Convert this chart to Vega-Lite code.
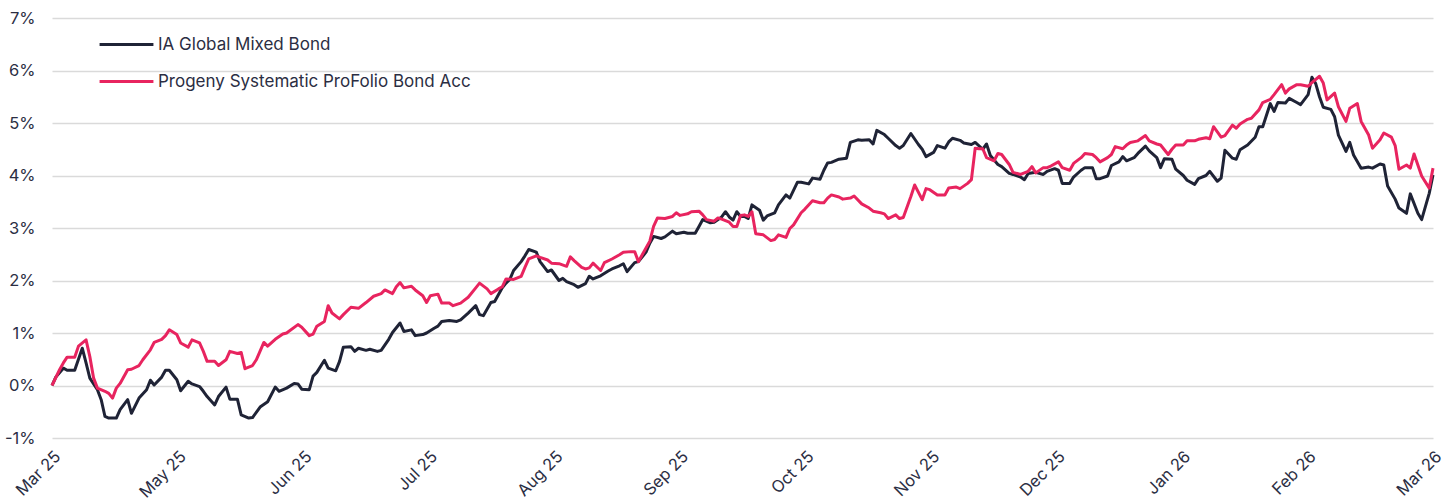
{
  "$schema": "https://vega.github.io/schema/vega-lite/v6.json",
  "width": 1381,
  "height": 420,
  "autosize": {"type": "none"},
  "padding": {"left": 52, "top": 18, "right": 12, "bottom": 64},
  "background": "white",
  "config": {
    "view": {"stroke": null},
    "font": "Inter",
    "axis": {"labelFont": "Inter", "labelColor": "#2b2e43", "labelFontSize": 16.5, "domain": false, "ticks": false},
    "legend": {"labelFont": "Inter", "labelColor": "#2b2e43", "labelFontSize": 17}
  },
  "datasets": {
    "ia": [
      {"date":"2025-03-31","value":0},{"date":"2025-04-01","value":0.16},{"date":"2025-04-03","value":0.33},{"date":"2025-04-04","value":0.29},{"date":"2025-04-06","value":0.29},{"date":"2025-04-08","value":0.71},{"date":"2025-04-09","value":0.43},{"date":"2025-04-10","value":0.14},{"date":"2025-04-12","value":-0.08},{"date":"2025-04-13","value":-0.27},{"date":"2025-04-14","value":-0.59},{"date":"2025-04-15","value":-0.62},{"date":"2025-04-17","value":-0.62},{"date":"2025-04-18","value":-0.46},{"date":"2025-04-20","value":-0.27},{"date":"2025-04-21","value":-0.53},{"date":"2025-04-23","value":-0.24},{"date":"2025-04-25","value":-0.08},{"date":"2025-04-26","value":0.10},{"date":"2025-04-27","value":0.01},{"date":"2025-04-29","value":0.16},{"date":"2025-04-30","value":0.29},
      {"date":"2025-05-01","value":0.29},{"date":"2025-05-03","value":0.11},{"date":"2025-05-04","value":-0.10},{"date":"2025-05-06","value":0.08},{"date":"2025-05-07","value":0.03},{"date":"2025-05-09","value":-0.02},{"date":"2025-05-10","value":-0.11},{"date":"2025-05-11","value":-0.21},{"date":"2025-05-13","value":-0.37},{"date":"2025-05-14","value":-0.21},{"date":"2025-05-16","value":-0.03},{"date":"2025-05-17","value":-0.26},{"date":"2025-05-19","value":-0.26},{"date":"2025-05-20","value":-0.56},{"date":"2025-05-22","value":-0.62},{"date":"2025-05-23","value":-0.61},{"date":"2025-05-25","value":-0.41},{"date":"2025-05-27","value":-0.31},{"date":"2025-05-29","value":-0.03},{"date":"2025-05-30","value":-0.11},
      {"date":"2025-06-01","value":-0.05},{"date":"2025-06-03","value":0.04},{"date":"2025-06-04","value":0.03},{"date":"2025-06-05","value":-0.07},{"date":"2025-06-07","value":-0.08},{"date":"2025-06-08","value":0.18},{"date":"2025-06-09","value":0.25},{"date":"2025-06-11","value":0.48},{"date":"2025-06-12","value":0.33},{"date":"2025-06-14","value":0.28},{"date":"2025-06-15","value":0.46},{"date":"2025-06-16","value":0.73},{"date":"2025-06-18","value":0.74},{"date":"2025-06-19","value":0.65},{"date":"2025-06-20","value":0.71},{"date":"2025-06-22","value":0.67},{"date":"2025-06-23","value":0.69},{"date":"2025-06-25","value":0.65},{"date":"2025-06-26","value":0.67},{"date":"2025-06-28","value":0.88},{"date":"2025-06-29","value":1.01},
      {"date":"2025-07-01","value":1.19},{"date":"2025-07-02","value":1.03},{"date":"2025-07-04","value":1.06},{"date":"2025-07-05","value":0.95},{"date":"2025-07-07","value":0.97},{"date":"2025-07-08","value":1.00},{"date":"2025-07-10","value":1.09},{"date":"2025-07-11","value":1.13},{"date":"2025-07-12","value":1.22},{"date":"2025-07-14","value":1.24},{"date":"2025-07-16","value":1.22},{"date":"2025-07-17","value":1.25},{"date":"2025-07-19","value":1.38},{"date":"2025-07-21","value":1.52},{"date":"2025-07-22","value":1.35},{"date":"2025-07-23","value":1.33},{"date":"2025-07-25","value":1.58},{"date":"2025-07-26","value":1.60},{"date":"2025-07-28","value":1.86},{"date":"2025-07-29","value":1.95},{"date":"2025-07-30","value":2.02},{"date":"2025-07-31","value":2.19},
      {"date":"2025-08-02","value":2.36},{"date":"2025-08-03","value":2.47},{"date":"2025-08-04","value":2.59},{"date":"2025-08-06","value":2.54},{"date":"2025-08-07","value":2.36},{"date":"2025-08-09","value":2.17},{"date":"2025-08-10","value":2.20},{"date":"2025-08-12","value":2.00},{"date":"2025-08-13","value":2.04},{"date":"2025-08-14","value":1.98},{"date":"2025-08-16","value":1.92},{"date":"2025-08-17","value":1.87},{"date":"2025-08-19","value":1.94},{"date":"2025-08-20","value":2.08},{"date":"2025-08-21","value":2.03},{"date":"2025-08-23","value":2.09},{"date":"2025-08-25","value":2.18},{"date":"2025-08-26","value":2.22},{"date":"2025-08-28","value":2.28},{"date":"2025-08-29","value":2.32},{"date":"2025-08-30","value":2.17},
      {"date":"2025-09-01","value":2.34},{"date":"2025-09-02","value":2.36},{"date":"2025-09-04","value":2.54},{"date":"2025-09-05","value":2.71},{"date":"2025-09-06","value":2.84},{"date":"2025-09-08","value":2.80},{"date":"2025-09-09","value":2.83},{"date":"2025-09-11","value":2.94},{"date":"2025-09-12","value":2.89},{"date":"2025-09-14","value":2.92},{"date":"2025-09-15","value":2.90},{"date":"2025-09-17","value":2.90},{"date":"2025-09-18","value":3.03},{"date":"2025-09-19","value":3.16},{"date":"2025-09-21","value":3.10},{"date":"2025-09-22","value":3.11},{"date":"2025-09-24","value":3.21},{"date":"2025-09-25","value":3.31},{"date":"2025-09-26","value":3.21},{"date":"2025-09-27","value":3.15},{"date":"2025-09-28","value":3.31},{"date":"2025-09-29","value":3.22},{"date":"2025-09-30","value":3.22},
      {"date":"2025-10-01","value":3.18},{"date":"2025-10-02","value":3.44},{"date":"2025-10-04","value":3.34},{"date":"2025-10-05","value":3.15},{"date":"2025-10-06","value":3.23},{"date":"2025-10-08","value":3.29},{"date":"2025-10-09","value":3.44},{"date":"2025-10-11","value":3.63},{"date":"2025-10-12","value":3.57},{"date":"2025-10-14","value":3.87},{"date":"2025-10-15","value":3.87},{"date":"2025-10-17","value":3.84},{"date":"2025-10-18","value":3.95},{"date":"2025-10-20","value":3.93},{"date":"2025-10-21","value":4.10},{"date":"2025-10-22","value":4.24},{"date":"2025-10-23","value":4.25},{"date":"2025-10-25","value":4.31},{"date":"2025-10-27","value":4.33},{"date":"2025-10-28","value":4.63},{"date":"2025-10-30","value":4.68},{"date":"2025-10-31","value":4.67},
      {"date":"2025-11-02","value":4.68},{"date":"2025-11-03","value":4.60},{"date":"2025-11-04","value":4.86},{"date":"2025-11-06","value":4.78},{"date":"2025-11-07","value":4.71},{"date":"2025-11-09","value":4.57},{"date":"2025-11-10","value":4.52},{"date":"2025-11-11","value":4.57},{"date":"2025-11-13","value":4.80},{"date":"2025-11-15","value":4.59},{"date":"2025-11-16","value":4.50},{"date":"2025-11-17","value":4.36},{"date":"2025-11-19","value":4.44},{"date":"2025-11-20","value":4.57},{"date":"2025-11-22","value":4.52},{"date":"2025-11-23","value":4.64},{"date":"2025-11-24","value":4.71},{"date":"2025-11-26","value":4.67},{"date":"2025-11-27","value":4.62},{"date":"2025-11-29","value":4.59},{"date":"2025-11-30","value":4.63},
      {"date":"2025-12-02","value":4.50},{"date":"2025-12-03","value":4.60},{"date":"2025-12-04","value":4.38},{"date":"2025-12-06","value":4.21},{"date":"2025-12-07","value":4.17},{"date":"2025-12-09","value":4.04},{"date":"2025-12-10","value":4.02},{"date":"2025-12-12","value":3.97},{"date":"2025-12-13","value":3.92},{"date":"2025-12-14","value":4.04},{"date":"2025-12-16","value":4.06},{"date":"2025-12-18","value":4.02},{"date":"2025-12-19","value":4.08},{"date":"2025-12-21","value":4.13},{"date":"2025-12-22","value":4.10},{"date":"2025-12-23","value":3.85},{"date":"2025-12-25","value":3.85},{"date":"2025-12-26","value":3.97},{"date":"2025-12-28","value":4.10},{"date":"2025-12-29","value":4.15},{"date":"2025-12-31","value":4.15},
      {"date":"2026-01-01","value":3.94},{"date":"2026-01-02","value":3.94},{"date":"2026-01-04","value":3.99},{"date":"2026-01-05","value":4.19},{"date":"2026-01-07","value":4.26},{"date":"2026-01-08","value":4.36},{"date":"2026-01-09","value":4.28},{"date":"2026-01-11","value":4.34},{"date":"2026-01-12","value":4.42},{"date":"2026-01-14","value":4.56},{"date":"2026-01-15","value":4.47},{"date":"2026-01-17","value":4.34},{"date":"2026-01-18","value":4.15},{"date":"2026-01-19","value":4.32},{"date":"2026-01-21","value":4.31},{"date":"2026-01-22","value":4.12},{"date":"2026-01-24","value":4.00},{"date":"2026-01-25","value":3.91},{"date":"2026-01-27","value":3.83},{"date":"2026-01-28","value":3.94},{"date":"2026-01-30","value":4.00},{"date":"2026-01-31","value":4.08},
      {"date":"2026-02-02","value":3.89},{"date":"2026-02-03","value":3.95},{"date":"2026-02-04","value":4.48},{"date":"2026-02-06","value":4.33},{"date":"2026-02-07","value":4.31},{"date":"2026-02-08","value":4.49},{"date":"2026-02-10","value":4.58},{"date":"2026-02-12","value":4.73},{"date":"2026-02-13","value":4.93},{"date":"2026-02-14","value":4.93},{"date":"2026-02-16","value":5.37},{"date":"2026-02-17","value":5.22},{"date":"2026-02-18","value":5.39},{"date":"2026-02-20","value":5.38},{"date":"2026-02-21","value":5.47},{"date":"2026-02-23","value":5.39},{"date":"2026-02-24","value":5.35},{"date":"2026-02-26","value":5.54},{"date":"2026-02-27","value":5.87},{"date":"2026-02-28","value":5.75},
      {"date":"2026-03-01","value":5.50},{"date":"2026-03-02","value":5.30},{"date":"2026-03-04","value":5.26},{"date":"2026-03-05","value":5.12},{"date":"2026-03-06","value":4.77},{"date":"2026-03-08","value":4.46},{"date":"2026-03-09","value":4.63},{"date":"2026-03-10","value":4.39},{"date":"2026-03-12","value":4.14},{"date":"2026-03-14","value":4.16},{"date":"2026-03-15","value":4.14},{"date":"2026-03-17","value":4.22},{"date":"2026-03-18","value":4.20},{"date":"2026-03-19","value":3.80},{"date":"2026-03-21","value":3.55},{"date":"2026-03-22","value":3.38},{"date":"2026-03-24","value":3.28},{"date":"2026-03-25","value":3.65},{"date":"2026-03-27","value":3.28},{"date":"2026-03-28","value":3.16},{"date":"2026-03-30","value":3.66},{"date":"2026-03-31","value":4.01}
    ],
    "progeny": [
      {"date":"2025-03-31","value":0},{"date":"2025-04-02","value":0.30},{"date":"2025-04-03","value":0.43},{"date":"2025-04-04","value":0.54},{"date":"2025-04-06","value":0.54},{"date":"2025-04-07","value":0.75},{"date":"2025-04-09","value":0.87},{"date":"2025-04-10","value":0.55},{"date":"2025-04-11","value":0.14},{"date":"2025-04-12","value":-0.05},{"date":"2025-04-14","value":-0.11},{"date":"2025-04-15","value":-0.15},{"date":"2025-04-16","value":-0.24},{"date":"2025-04-17","value":-0.05},{"date":"2025-04-18","value":0.04},{"date":"2025-04-20","value":0.30},{"date":"2025-04-21","value":0.31},{"date":"2025-04-23","value":0.38},{"date":"2025-04-24","value":0.49},{"date":"2025-04-26","value":0.68},{"date":"2025-04-27","value":0.82},{"date":"2025-04-29","value":0.88},{"date":"2025-04-30","value":0.95},
      {"date":"2025-05-01","value":1.06},{"date":"2025-05-03","value":0.97},{"date":"2025-05-04","value":0.81},{"date":"2025-05-06","value":0.73},{"date":"2025-05-07","value":0.87},{"date":"2025-05-09","value":0.81},{"date":"2025-05-10","value":0.65},{"date":"2025-05-11","value":0.46},{"date":"2025-05-13","value":0.46},{"date":"2025-05-14","value":0.38},{"date":"2025-05-16","value":0.49},{"date":"2025-05-17","value":0.65},{"date":"2025-05-19","value":0.61},{"date":"2025-05-20","value":0.63},{"date":"2025-05-21","value":0.32},{"date":"2025-05-23","value":0.38},{"date":"2025-05-24","value":0.49},{"date":"2025-05-26","value":0.82},{"date":"2025-05-27","value":0.75},{"date":"2025-05-29","value":0.88},{"date":"2025-05-31","value":0.98},
      {"date":"2025-06-01","value":1.00},{"date":"2025-06-04","value":1.16},{"date":"2025-06-05","value":1.11},{"date":"2025-06-07","value":0.95},{"date":"2025-06-08","value":0.98},{"date":"2025-06-09","value":1.13},{"date":"2025-06-11","value":1.22},{"date":"2025-06-12","value":1.52},{"date":"2025-06-13","value":1.38},{"date":"2025-06-15","value":1.27},{"date":"2025-06-16","value":1.35},{"date":"2025-06-18","value":1.49},{"date":"2025-06-20","value":1.47},{"date":"2025-06-22","value":1.58},{"date":"2025-06-24","value":1.70},{"date":"2025-06-26","value":1.75},{"date":"2025-06-27","value":1.82},{"date":"2025-06-29","value":1.75},{"date":"2025-06-30","value":1.88},
      {"date":"2025-07-01","value":1.96},{"date":"2025-07-02","value":1.86},{"date":"2025-07-04","value":1.89},{"date":"2025-07-05","value":1.82},{"date":"2025-07-07","value":1.71},{"date":"2025-07-08","value":1.58},{"date":"2025-07-09","value":1.71},{"date":"2025-07-11","value":1.74},{"date":"2025-07-12","value":1.57},{"date":"2025-07-14","value":1.57},{"date":"2025-07-15","value":1.52},{"date":"2025-07-17","value":1.57},{"date":"2025-07-19","value":1.68},{"date":"2025-07-21","value":1.86},{"date":"2025-07-22","value":1.95},{"date":"2025-07-24","value":1.84},{"date":"2025-07-25","value":1.75},{"date":"2025-07-27","value":1.84},{"date":"2025-07-28","value":1.88},{"date":"2025-07-29","value":2.03},{"date":"2025-07-31","value":2.02},
      {"date":"2025-08-02","value":2.08},{"date":"2025-08-03","value":2.25},{"date":"2025-08-04","value":2.41},{"date":"2025-08-06","value":2.47},{"date":"2025-08-07","value":2.44},{"date":"2025-08-09","value":2.39},{"date":"2025-08-10","value":2.33},{"date":"2025-08-12","value":2.32},{"date":"2025-08-14","value":2.27},{"date":"2025-08-15","value":2.45},{"date":"2025-08-16","value":2.38},{"date":"2025-08-18","value":2.25},{"date":"2025-08-19","value":2.22},{"date":"2025-08-20","value":2.24},{"date":"2025-08-21","value":2.33},{"date":"2025-08-23","value":2.19},{"date":"2025-08-24","value":2.34},{"date":"2025-08-26","value":2.41},{"date":"2025-08-28","value":2.49},{"date":"2025-08-29","value":2.54},{"date":"2025-08-31","value":2.55},
      {"date":"2025-09-01","value":2.55},{"date":"2025-09-02","value":2.36},{"date":"2025-09-03","value":2.49},{"date":"2025-09-05","value":2.75},{"date":"2025-09-06","value":3.03},{"date":"2025-09-07","value":3.19},{"date":"2025-09-09","value":3.18},{"date":"2025-09-11","value":3.22},{"date":"2025-09-12","value":3.29},{"date":"2025-09-13","value":3.24},{"date":"2025-09-15","value":3.27},{"date":"2025-09-16","value":3.31},{"date":"2025-09-18","value":3.32},{"date":"2025-09-19","value":3.25},{"date":"2025-09-20","value":3.16},{"date":"2025-09-22","value":3.13},{"date":"2025-09-23","value":3.19},{"date":"2025-09-24","value":3.17},{"date":"2025-09-26","value":3.11},{"date":"2025-09-27","value":3.03},{"date":"2025-09-28","value":3.03},{"date":"2025-09-29","value":3.24},{"date":"2025-09-30","value":3.25},
      {"date":"2025-10-01","value":3.22},{"date":"2025-10-02","value":3.31},{"date":"2025-10-03","value":2.89},{"date":"2025-10-05","value":2.87},{"date":"2025-10-07","value":2.76},{"date":"2025-10-08","value":2.78},{"date":"2025-10-09","value":2.87},{"date":"2025-10-11","value":2.82},{"date":"2025-10-12","value":2.99},{"date":"2025-10-13","value":3.06},{"date":"2025-10-15","value":3.29},{"date":"2025-10-16","value":3.36},{"date":"2025-10-18","value":3.52},{"date":"2025-10-20","value":3.48},{"date":"2025-10-21","value":3.48},{"date":"2025-10-22","value":3.57},{"date":"2025-10-23","value":3.63},{"date":"2025-10-25","value":3.59},{"date":"2025-10-26","value":3.55},{"date":"2025-10-28","value":3.57},{"date":"2025-10-29","value":3.61},{"date":"2025-10-31","value":3.46},
      {"date":"2025-11-02","value":3.38},{"date":"2025-11-03","value":3.32},{"date":"2025-11-05","value":3.29},{"date":"2025-11-06","value":3.27},{"date":"2025-11-07","value":3.18},{"date":"2025-11-09","value":3.25},{"date":"2025-11-10","value":3.18},{"date":"2025-11-11","value":3.20},{"date":"2025-11-13","value":3.60},{"date":"2025-11-14","value":3.82},{"date":"2025-11-16","value":3.54},{"date":"2025-11-17","value":3.75},{"date":"2025-11-18","value":3.73},{"date":"2025-11-20","value":3.63},{"date":"2025-11-22","value":3.63},{"date":"2025-11-23","value":3.76},{"date":"2025-11-25","value":3.78},{"date":"2025-11-26","value":3.75},{"date":"2025-11-28","value":3.85},{"date":"2025-11-29","value":3.92},{"date":"2025-11-30","value":4.52},
      {"date":"2025-12-01","value":4.51},{"date":"2025-12-02","value":4.51},{"date":"2025-12-03","value":4.34},{"date":"2025-12-05","value":4.28},{"date":"2025-12-06","value":4.42},{"date":"2025-12-07","value":4.40},{"date":"2025-12-09","value":4.21},{"date":"2025-12-10","value":4.06},{"date":"2025-12-12","value":4.02},{"date":"2025-12-14","value":4.08},{"date":"2025-12-15","value":4.17},{"date":"2025-12-16","value":4.05},{"date":"2025-12-18","value":4.15},{"date":"2025-12-19","value":4.15},{"date":"2025-12-20","value":4.18},{"date":"2025-12-22","value":4.26},{"date":"2025-12-23","value":4.15},{"date":"2025-12-25","value":4.10},{"date":"2025-12-26","value":4.23},{"date":"2025-12-28","value":4.34},{"date":"2025-12-29","value":4.42},{"date":"2025-12-31","value":4.40},
      {"date":"2026-01-01","value":4.34},{"date":"2026-01-02","value":4.26},{"date":"2026-01-04","value":4.34},{"date":"2026-01-05","value":4.40},{"date":"2026-01-06","value":4.55},{"date":"2026-01-08","value":4.51},{"date":"2026-01-09","value":4.58},{"date":"2026-01-10","value":4.63},{"date":"2026-01-12","value":4.66},{"date":"2026-01-14","value":4.76},{"date":"2026-01-15","value":4.66},{"date":"2026-01-17","value":4.60},{"date":"2026-01-18","value":4.58},{"date":"2026-01-20","value":4.40},{"date":"2026-01-21","value":4.50},{"date":"2026-01-22","value":4.58},{"date":"2026-01-24","value":4.58},{"date":"2026-01-25","value":4.66},{"date":"2026-01-27","value":4.66},{"date":"2026-01-28","value":4.69},{"date":"2026-01-30","value":4.72},{"date":"2026-01-31","value":4.70},
      {"date":"2026-02-01","value":4.93},{"date":"2026-02-03","value":4.73},{"date":"2026-02-04","value":4.76},{"date":"2026-02-06","value":4.96},{"date":"2026-02-07","value":4.90},{"date":"2026-02-08","value":4.98},{"date":"2026-02-10","value":5.07},{"date":"2026-02-11","value":5.09},{"date":"2026-02-13","value":5.25},{"date":"2026-02-14","value":5.39},{"date":"2026-02-16","value":5.45},{"date":"2026-02-17","value":5.54},{"date":"2026-02-19","value":5.73},{"date":"2026-02-20","value":5.57},{"date":"2026-02-21","value":5.65},{"date":"2026-02-23","value":5.73},{"date":"2026-02-24","value":5.73},{"date":"2026-02-26","value":5.70},{"date":"2026-02-27","value":5.77},
      {"date":"2026-03-01","value":5.89},{"date":"2026-03-02","value":5.76},{"date":"2026-03-03","value":5.44},{"date":"2026-03-05","value":5.57},{"date":"2026-03-06","value":5.31},{"date":"2026-03-08","value":5.03},{"date":"2026-03-09","value":5.28},{"date":"2026-03-11","value":5.37},{"date":"2026-03-12","value":5.03},{"date":"2026-03-14","value":4.77},{"date":"2026-03-15","value":4.52},{"date":"2026-03-17","value":4.68},{"date":"2026-03-18","value":4.81},{"date":"2026-03-20","value":4.73},{"date":"2026-03-21","value":4.57},{"date":"2026-03-22","value":4.12},{"date":"2026-03-24","value":4.20},{"date":"2026-03-25","value":4.14},{"date":"2026-03-26","value":4.41},{"date":"2026-03-28","value":3.99},{"date":"2026-03-30","value":3.76},{"date":"2026-03-31","value":4.14}
    ]
  },
  "encoding": {
    "x": {
      "field": "date",
      "type": "temporal",
      "title": null,
      "scale": {
        "type": "utc",
        "nice": false,
        "domain": [
          {"year": 2025, "month": 3, "date": 31, "utc": true},
          {"year": 2026, "month": 3, "date": 31, "utc": true}
        ]
      },
      "axis": {
        "grid": false,
        "labelAngle": -45,
        "labelAlign": "right",
        "labelBaseline": "top",
        "labelPadding": 10,
        "labelExpr": "utcFormat(datum.value, '%b %y')",
        "labelOverlap": false,
        "values": [
          {"year": 2025, "month": 3, "date": 31, "utc": true},
          {"year": 2025, "month": 5, "date": 3, "hours": 4, "utc": true},
          {"year": 2025, "month": 6, "date": 5, "hours": 9, "utc": true},
          {"year": 2025, "month": 7, "date": 8, "hours": 13, "utc": true},
          {"year": 2025, "month": 8, "date": 10, "hours": 17, "utc": true},
          {"year": 2025, "month": 9, "date": 12, "hours": 22, "utc": true},
          {"year": 2025, "month": 10, "date": 16, "hours": 2, "utc": true},
          {"year": 2025, "month": 11, "date": 18, "hours": 7, "utc": true},
          {"year": 2025, "month": 12, "date": 21, "hours": 11, "utc": true},
          {"year": 2026, "month": 1, "date": 23, "hours": 15, "utc": true},
          {"year": 2026, "month": 2, "date": 25, "hours": 19, "utc": true},
          {"year": 2026, "month": 3, "date": 31, "utc": true}
        ]
      }
    },
    "y": {
      "field": "value",
      "type": "quantitative",
      "title": null,
      "scale": {"domain": [-1, 7], "nice": false, "zero": false},
      "axis": {
        "values": [-1, 0, 1, 2, 3, 4, 5, 6, 7],
        "labelExpr": "datum.value + '%'",
        "labelPadding": 17,
        "grid": true,
        "gridColor": "#dadada",
        "gridWidth": 1.5
      }
    }
  },
  "layer": [
    {
      "data": {"name": "ia"},
      "mark": {"type": "line", "strokeWidth": 3, "strokeJoin": "round"},
      "encoding": {
        "color": {
          "datum": "IA Global Mixed Bond",
          "type": "nominal",
          "scale": {
            "domain": ["IA Global Mixed Bond", "Progeny Systematic ProFolio Bond Acc"],
            "range": ["#1f2336", "#e8245f"]
          },
          "legend": {
            "title": null,
            "orient": "none",
            "legendX": 46,
            "legendY": -2,
            "symbolType": "stroke",
            "symbolSize": 2900,
            "symbolStrokeWidth": 3,
            "labelOffset": 3,
            "labelLimit": 0,
            "rowPadding": 0
          }
        }
      }
    },
    {
      "data": {"name": "progeny"},
      "mark": {"type": "line", "strokeWidth": 3, "strokeJoin": "round"},
      "encoding": {
        "color": {"datum": "Progeny Systematic ProFolio Bond Acc", "type": "nominal"}
      }
    }
  ]
}
